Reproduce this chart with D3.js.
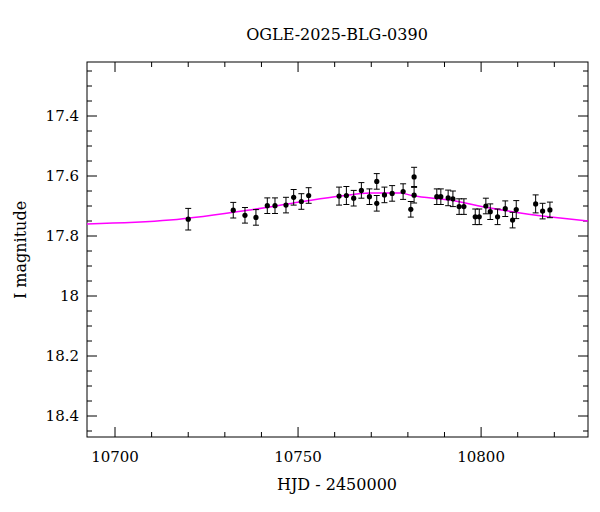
<!DOCTYPE html>
<html><head><meta charset="utf-8">
<script src="https://cdn.jsdelivr.net/npm/d3@7"></script>
<style>body{margin:0;background:#fff}text{font-family:"DejaVu Serif",serif}</style>
</head><body>
<svg id="chart" width="600" height="512"></svg>
<script>
// photometry
const hjd = [10720.0,10732.3,10735.5,10738.5,10741.6,10743.7,10746.7,10748.8,10750.9,10752.9,
  10761.2,10763.2,10765.2,10767.3,10769.5,10771.5,10771.5,10773.6,10775.7,10778.7,
  10780.8,10781.7,10781.7,10787.9,10789.0,10791.0,10792.3,10794.0,10795.3,10798.4,
  10799.5,10801.3,10802.5,10804.5,10806.6,10808.6,10809.6,10814.9,10816.8,10818.8];
const mag = [17.744,17.714,17.731,17.738,17.699,17.699,17.697,17.671,17.685,17.665,
  17.667,17.665,17.674,17.648,17.669,17.618,17.691,17.663,17.658,17.652,
  17.711,17.603,17.664,17.669,17.669,17.673,17.676,17.702,17.702,17.736,
  17.736,17.700,17.719,17.736,17.709,17.747,17.712,17.693,17.717,17.713];
const err = [0.036,0.026,0.026,0.026,0.026,0.026,0.026,0.026,0.026,0.026,
  0.03,0.03,0.026,0.026,0.026,0.026,0.026,0.026,0.026,0.026,
  0.026,0.032,0.026,0.026,0.026,0.026,0.026,0.026,0.026,0.026,
  0.026,0.026,0.026,0.026,0.026,0.026,0.03,0.03,0.026,0.026];
// model curve
const modelT = [10692.3,10715,10737,10750.5,10761.5,10769.7,10777.9,10781.4,10791.5,10802.5,10810.7,10821.6,10829.2];
const modelM = [17.76,17.747,17.713,17.687,17.667,17.657,17.657,17.666,17.68,17.707,17.723,17.74,17.75];
const xTicks = [10700,10750,10800];
const yTicks = [17.4,17.6,17.8,18,18.2,18.4];

const svg = d3.select('#chart');
const L = 87, R = 588, T = 62, B = 437;
const x = d3.scaleLinear().domain([10692.35, 10829.2]).range([L, R]);
const y = d3.scaleLinear().domain([17.22, 18.47]).range([T, B]);

// ticks, inward, all four sides
const xMinor = d3.range(10700, 10830, 10);
const yMinor = d3.range(17.25, 18.47, 0.05);
const g = svg.append('g').attr('stroke', '#000').attr('stroke-width', 1);
xMinor.forEach(v => {
  const len = xTicks.includes(Math.round(v)) ? 10 : 5;
  g.append('line').attr('x1', x(v)).attr('x2', x(v)).attr('y1', B).attr('y2', B - len);
  g.append('line').attr('x1', x(v)).attr('x2', x(v)).attr('y1', T).attr('y2', T + len);
});
yMinor.forEach(v => {
  const major = yTicks.some(t => Math.abs(t - v) < 1e-6);
  const len = major ? 10 : 5;
  g.append('line').attr('y1', y(v)).attr('y2', y(v)).attr('x1', L).attr('x2', L + len);
  g.append('line').attr('y1', y(v)).attr('y2', y(v)).attr('x1', R).attr('x2', R - len);
});
svg.append('rect').attr('x', L).attr('y', T).attr('width', R - L).attr('height', B - T)
  .attr('fill', 'none').attr('stroke', '#000');

svg.selectAll('.xl').data(xTicks).enter().append('text')
  .attr('x', d => x(d)).attr('y', B + 25).attr('text-anchor', 'middle')
  .attr('font-size', 15).text(d => d);
svg.selectAll('.yl').data(yTicks).enter().append('text')
  .attr('x', L - 8).attr('y', d => y(d) + 5).attr('text-anchor', 'end')
  .attr('font-size', 15).text(d => d);

svg.append('text').attr('x', 337).attr('y', 40).attr('text-anchor', 'middle')
  .attr('font-size', 16).text('OGLE-2025-BLG-0390');
svg.append('text').attr('x', 337).attr('y', 490).attr('text-anchor', 'middle')
  .attr('font-size', 16).text('HJD - 2450000');
svg.append('text').attr('transform', 'translate(26,250) rotate(-90)').attr('text-anchor', 'middle')
  .attr('font-size', 16).text('I magnitude');

const clip = svg.append('defs').append('clipPath').attr('id', 'c')
  .append('rect').attr('x', L).attr('y', T).attr('width', R - L).attr('height', B - T);
const line = d3.line().x((d, i) => x(modelT[i])).y(d => y(d)).curve(d3.curveMonotoneX);
svg.append('path').attr('clip-path', 'url(#c)').attr('d', line(modelM))
  .attr('fill', 'none').attr('stroke', '#f0f').attr('stroke-width', 1.5);

const pts = svg.append('g').selectAll('g').data(hjd).enter().append('g');
pts.append('line').attr('x1', d => x(d)).attr('x2', d => x(d))
  .attr('y1', (d, i) => y(mag[i] - err[i])).attr('y2', (d, i) => y(mag[i] + err[i])).attr('stroke', '#000');
[-1, 1].forEach(s => pts.append('line').attr('x1', d => x(d) - 3).attr('x2', d => x(d) + 3)
  .attr('y1', (d, i) => y(mag[i] + s * err[i])).attr('y2', (d, i) => y(mag[i] + s * err[i])).attr('stroke', '#000'));
pts.append('circle').attr('cx', d => x(d)).attr('cy', (d, i) => y(mag[i])).attr('r', 2.6).attr('fill', '#000');
</script>
</body></html>
